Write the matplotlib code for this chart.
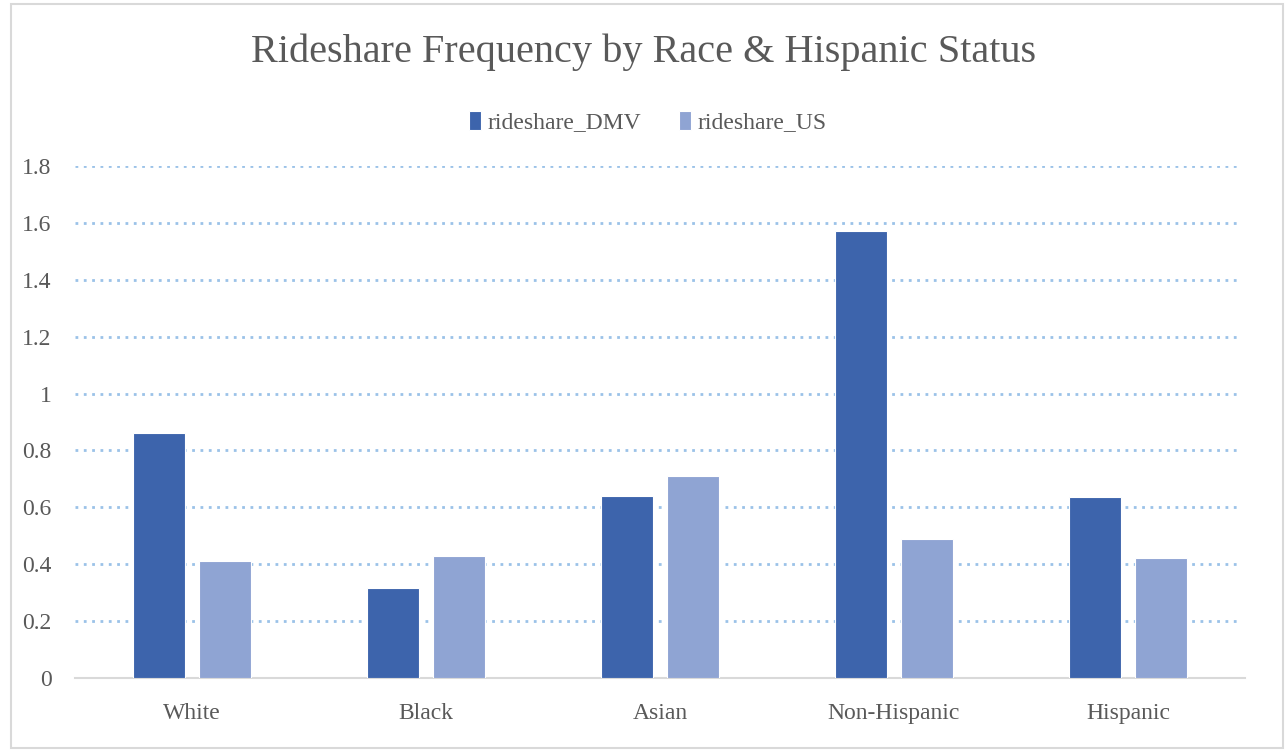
import matplotlib
matplotlib.use("Agg")
import matplotlib.pyplot as plt
import numpy as np
from matplotlib.patches import Rectangle

categories = ["White", "Black", "Asian", "Non-Hispanic", "Hispanic"]
rideshare_DMV = [0.86, 0.318, 0.641, 1.573, 0.636]
rideshare_US = [0.413, 0.428, 0.711, 0.490, 0.421]
yticks = [0, 0.2, 0.4, 0.6, 0.8, 1, 1.2, 1.4, 1.6, 1.8]
ytick_labels = ["0", "0.2", "0.4", "0.6", "0.8", "1", "1.2", "1.4", "1.6", "1.8"]

plt.rcParams['font.family'] = ['Liberation Serif', 'DejaVu Serif']

W, H = 1288, 750
fig = plt.figure(figsize=(W / 100, H / 100), dpi=100)
fig.patch.set_facecolor("white")

# outer chart border
fig.patches.append(Rectangle((11 / W, 1 - 748 / H), (1283 - 11) / W, (748 - 4) / H,
                             transform=fig.transFigure, fill=False,
                             edgecolor="#D9D9D9", linewidth=1.5))

ax = fig.add_axes([75 / W, 1 - 678 / H, (1245 - 75) / W, (678 - 166) / H])

x = np.arange(len(categories))
bw = 0.222
off = 0.143
c_dmv = "#3D64AC"
c_us = "#8FA4D3"
ax.bar(x - off, rideshare_DMV, width=bw, color=c_dmv, edgecolor="white", linewidth=0.8,
       label="rideshare_DMV", zorder=3)
ax.bar(x + off, rideshare_US, width=bw, color=c_us, edgecolor="white", linewidth=0.8,
       label="rideshare_US", zorder=3)

ax.set_xlim(-0.5, len(categories) - 0.5)
ax.set_ylim(0, 1.8)
ax.set_yticks(yticks)
ax.set_yticklabels(ytick_labels)
ax.set_xticks(x)
ax.set_xticklabels(categories)

for v in yticks[1:]:
    ax.axhline(v, xmin=0, xmax=0.996, color="#9BC2E8", linestyle=(0, (1, 2.0)),
               linewidth=2.0, zorder=1)

for s in ["top", "right", "left"]:
    ax.spines[s].set_visible(False)
ax.spines["bottom"].set_color("#D9D9D9")
ax.spines["bottom"].set_linewidth(1.5)
ax.tick_params(axis="both", length=0, colors="#595959", labelsize=17)
ax.tick_params(axis="x", pad=18)
ax.tick_params(axis="y", pad=17)
for lbl in ax.get_yticklabels():
    lbl.set_horizontalalignment("right")

fig.text(0.5, 1 - 52 / H, "Rideshare Frequency by Race & Hispanic Status",
         ha="center", va="center", fontsize=29, color="#595959")

leg = fig.legend(loc="center", bbox_to_anchor=(0.503, 1 - 122 / H), ncol=2,
                 frameon=False, fontsize=17, handlelength=0.5, handleheight=0.85,
                 handletextpad=0.3, columnspacing=1.6)
for t in leg.get_texts():
    t.set_color("#595959")

fig.savefig("out.png", dpi=100, facecolor="white")
